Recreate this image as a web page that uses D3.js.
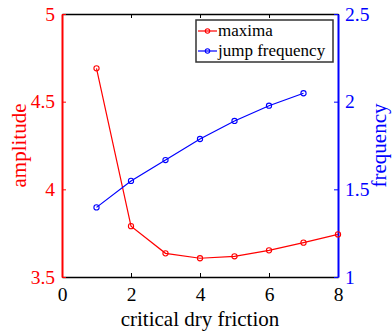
<!DOCTYPE html>
<html>
<head>
<meta charset="utf-8">
<script src="https://cdn.jsdelivr.net/npm/d3@7"></script>
<style>
  html, body { margin: 0; padding: 0; background: #fff; }
  svg, svg text { font-family: "Liberation Serif", "Times New Roman", serif; }
  svg { display: block; }
</style>
</head>
<body>
<svg id="chart" width="392" height="331"></svg>
<script>
// critical dry friction levels
const friction = [1, 2, 3, 4, 5, 6, 7, 8];
// amplitude maxima (left axis)
const maxima = [4.69, 3.79, 3.635, 3.607, 3.618, 3.652, 3.696, 3.743];
// jump frequency (right axis), no value at friction 8
const jumpFriction = [1, 2, 3, 4, 5, 6, 7];
const jumpFrequency = [1.397, 1.548, 1.667, 1.787, 1.89, 1.977, 2.048];

const xTicks = [0, 2, 4, 6, 8];
const leftTicks = [3.5, 4, 4.5, 5];
const rightTicks = [1, 1.5, 2, 2.5];

const RED = "#ff0000", BLUE = "#0000ff";
const FONT = '"Liberation Serif", "Times New Roman", serif';
const svg = d3.select("#chart");
const m = { left: 62, right: 338, top: 14, bottom: 277 };

const x = d3.scaleLinear().domain([0, 8]).range([m.left, m.right]);
const yL = d3.scaleLinear().domain([3.5, 5]).range([m.bottom, m.top]);
const yR = d3.scaleLinear().domain([1, 2.5]).range([m.bottom, m.top]);

const tickFont = 19.5, labelFont = 21;

function styleAxis(g, color, width) {
  g.attr("font-family", FONT).attr("font-size", tickFont);
  g.select(".domain").attr("stroke", color).attr("stroke-width", width);
  g.selectAll(".tick line").attr("stroke", color).attr("stroke-width", 1);
  g.selectAll(".tick text").attr("fill", color);
}

// bottom and top axes (black), ticks pointing inward
const bottomAxis = svg.append("g").attr("transform", `translate(0,${m.bottom})`)
  .call(d3.axisBottom(x).tickValues(xTicks).tickFormat(d3.format("d")).tickSizeInner(-4).tickSizeOuter(0).tickPadding(10));
const topAxis = svg.append("g").attr("transform", `translate(0,${m.top})`)
  .call(d3.axisTop(x).tickValues(xTicks).tickFormat("").tickSizeInner(-4).tickSizeOuter(0));
styleAxis(bottomAxis, "#000", 1.6);
styleAxis(topAxis, "#000", 1.6);

// left axis (red)
const leftAxis = svg.append("g").attr("transform", `translate(${m.left},0)`)
  .call(d3.axisLeft(yL).tickValues(leftTicks).tickFormat(d => String(d)).tickSizeInner(-4).tickSizeOuter(0).tickPadding(7));
styleAxis(leftAxis, RED, 2);

// right axis (blue)
const rightAxis = svg.append("g").attr("transform", `translate(${m.right},0)`)
  .call(d3.axisRight(yR).tickValues(rightTicks).tickFormat(d => String(d)).tickSizeInner(-4).tickSizeOuter(0).tickPadding(7));
styleAxis(rightAxis, BLUE, 2);

// series
function series(xs, ys, yScale, color) {
  const pts = xs.map((d, i) => [x(d), yScale(ys[i])]);
  svg.append("path").attr("d", d3.line()(pts))
    .attr("fill", "none").attr("stroke", color).attr("stroke-width", 1.2);
  svg.append("g").selectAll("circle").data(pts).join("circle")
    .attr("cx", d => d[0]).attr("cy", d => d[1]).attr("r", 2.6)
    .attr("fill", "none").attr("stroke", color).attr("stroke-width", 1.1);
}
series(friction, maxima, yL, RED);
series(jumpFriction, jumpFrequency, yR, BLUE);

// axis titles
svg.append("text").attr("x", (m.left + m.right) / 2).attr("y", 326)
  .attr("text-anchor", "middle").attr("font-size", labelFont).attr("fill", "#000")
  .text("critical dry friction");
svg.append("text").attr("transform", `translate(26,${(m.top + m.bottom) / 2}) rotate(-90)`)
  .attr("text-anchor", "middle").attr("font-size", labelFont).attr("fill", RED)
  .text("amplitude");
svg.append("text").attr("transform", `translate(386,${(m.top + m.bottom) / 2}) rotate(-90)`)
  .attr("text-anchor", "middle").attr("font-size", labelFont).attr("fill", BLUE)
  .text("frequency");

// legend
const legendItems = [
  { name: "maxima", color: RED },
  { name: "jump frequency", color: BLUE }
];
const lg = svg.append("g").attr("font-family", FONT);
lg.append("rect").attr("x", 196).attr("y", 20).attr("width", 137).attr("height", 42)
  .attr("fill", "#fff").attr("stroke", "#333").attr("stroke-width", 1.5);
legendItems.forEach((d, i) => {
  const cy = 31 + i * 20;
  lg.append("line").attr("x1", 198).attr("x2", 217).attr("y1", cy).attr("y2", cy)
    .attr("stroke", d.color).attr("stroke-width", 1.2);
  lg.append("circle").attr("cx", 207.5).attr("cy", cy).attr("r", 2.2)
    .attr("fill", "none").attr("stroke", d.color).attr("stroke-width", 1.1);
  lg.append("text").attr("x", 218).attr("y", cy).attr("dy", "0.32em")
    .attr("font-size", 17).attr("fill", "#000").text(d.name);
});
</script>
</body>
</html>
